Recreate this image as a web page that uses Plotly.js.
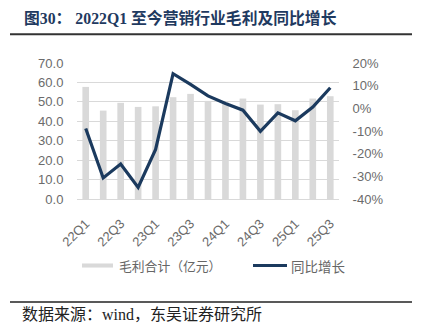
<!DOCTYPE html>
<html>
<head>
<meta charset="utf-8">
<script src="https://cdn.plot.ly/plotly-3.0.1.min.js"></script>
<style>html,body{margin:0;padding:0;background:#fff;}#chart{width:421px;height:334px;}</style>
</head>
<body>
<div id="chart"></div>
<script>
var quarters = ['22Q1','22Q2','22Q3','22Q4','23Q1','23Q2','23Q3','23Q4','24Q1','24Q2','24Q3','24Q4','25Q1','25Q2','25Q3'];
var grossProfit = [57.7, 45.5, 49.5, 47.4, 47.7, 52.4, 54.1, 50.5, 49.6, 51.7, 48.6, 48.8, 45.7, 51.7, 52.9];
var yoyGrowth = [-0.089, -0.307, -0.246, -0.349, -0.181, 0.153, 0.106, 0.055, 0.021, -0.008, -0.101, -0.020, -0.055, 0.006, 0.091];
var xTickLabels = ['22Q1','22Q3','23Q1','23Q3','24Q1','24Q3','25Q1','25Q3'];
var leftTicks = [0, 10, 20, 30, 40, 50, 60, 70];
var rightTickVals = [-0.4, -0.3, -0.2, -0.1, 0, 0.1, 0.2];
var rightTickText = ['-40%', '-30%', '-20%', '-10%', '0%', '10%', '20%'];
var seriesNames = ['毛利合计（亿元）', '同比增长'];
var titleText = '图30：&nbsp;2022Q1 至今营销行业毛利及同比增长';
var sourceText = '数据来源：wind，东吴证券研究所';

var barColor = '#d9d9d9';
var lineColor = '#1b3a5e';
var tickFont = {family: 'Liberation Sans, Arial, sans-serif', size: 13, color: '#6b6b6b'};
var serif = 'Liberation Serif, Noto Sans CJK SC, serif';

var traces = [
  {type: 'bar', x: quarters, y: grossProfit, name: seriesNames[0], marker: {color: barColor}, width: 0.38, yaxis: 'y', showlegend: false, hoverinfo: 'skip'},
  {type: 'scatter', mode: 'lines', x: quarters, y: yoyGrowth, name: seriesNames[1], line: {color: lineColor, width: 3.2}, yaxis: 'y2', showlegend: false, hoverinfo: 'skip'}
];

var layout = {
  width: 421, height: 334,
  margin: {l: 77, r: 82, t: 63, b: 135, pad: 0},
  paper_bgcolor: '#fff', plot_bgcolor: '#fff',
  showlegend: false,
  xaxis: {
    type: 'category', tickvals: xTickLabels, ticktext: xTickLabels, tickangle: -45,
    tickfont: tickFont, showgrid: false, showline: true, linecolor: '#d9d9d9', linewidth: 1,
    ticks: 'outside', ticklen: 11, tickcolor: 'rgba(0,0,0,0)', zeroline: false,
    range: [-0.5, 14.5]
  },
  yaxis: {
    range: [0, 70], tickvals: leftTicks, tickformat: '.1f', tickfont: tickFont,
    showgrid: true, gridcolor: '#d9d9d9', gridwidth: 1, zeroline: false, showline: false,
    ticks: 'outside', ticklen: 10, tickcolor: 'rgba(0,0,0,0)'
  },
  yaxis2: {
    overlaying: 'y', side: 'right', range: [-0.4, 0.2], tickvals: rightTickVals, ticktext: rightTickText,
    tickfont: tickFont, showgrid: false, zeroline: false, showline: false,
    ticks: 'outside', ticklen: 10, tickcolor: 'rgba(0,0,0,0)'
  },
  shapes: [
    {type: 'line', xref: 'paper', yref: 'paper', x0: -0.2557, x1: 1.2786, y0: 1.2117, y1: 1.2117, line: {color: '#333333', width: 2}},
    {type: 'line', xref: 'paper', yref: 'paper', x0: -0.2557, x1: 1.2786, y0: -0.757, y1: -0.757, line: {color: '#222222', width: 1.6}},
    {type: 'rect', xref: 'paper', yref: 'paper', x0: 0.0191, x1: 0.1374, y0: -0.504, y1: -0.474, fillcolor: barColor, line: {width: 0}},
    {type: 'line', xref: 'paper', yref: 'paper', x0: 0.6718, x1: 0.8015, y0: -0.489, y1: -0.489, line: {color: lineColor, width: 3}}
  ],
  annotations: [
    {text: '<b>' + titleText + '</b>', xref: 'paper', yref: 'paper', x: -0.2099, y: 1.3285, xanchor: 'left', yanchor: 'middle', showarrow: false, font: {family: serif, size: 15.8, color: '#1f3a60'}},
    {text: sourceText, xref: 'paper', yref: 'paper', x: -0.2176, y: -0.8467, xanchor: 'left', yanchor: 'middle', showarrow: false, font: {family: serif, size: 16, color: '#222222'}},
    {text: seriesNames[0], xref: 'paper', yref: 'paper', x: 0.1527, y: -0.489, xanchor: 'left', yanchor: 'middle', showarrow: false, font: {family: 'Noto Sans CJK SC, sans-serif', size: 12.8, color: '#666666'}},
    {text: seriesNames[1], xref: 'paper', yref: 'paper', x: 0.8092, y: -0.489, xanchor: 'left', yanchor: 'middle', showarrow: false, font: {family: 'Noto Sans CJK SC, sans-serif', size: 13.5, color: '#666666'}}
  ]
};

Plotly.newPlot('chart', traces, layout, {staticPlot: true, displayModeBar: false});
</script>
</body>
</html>
